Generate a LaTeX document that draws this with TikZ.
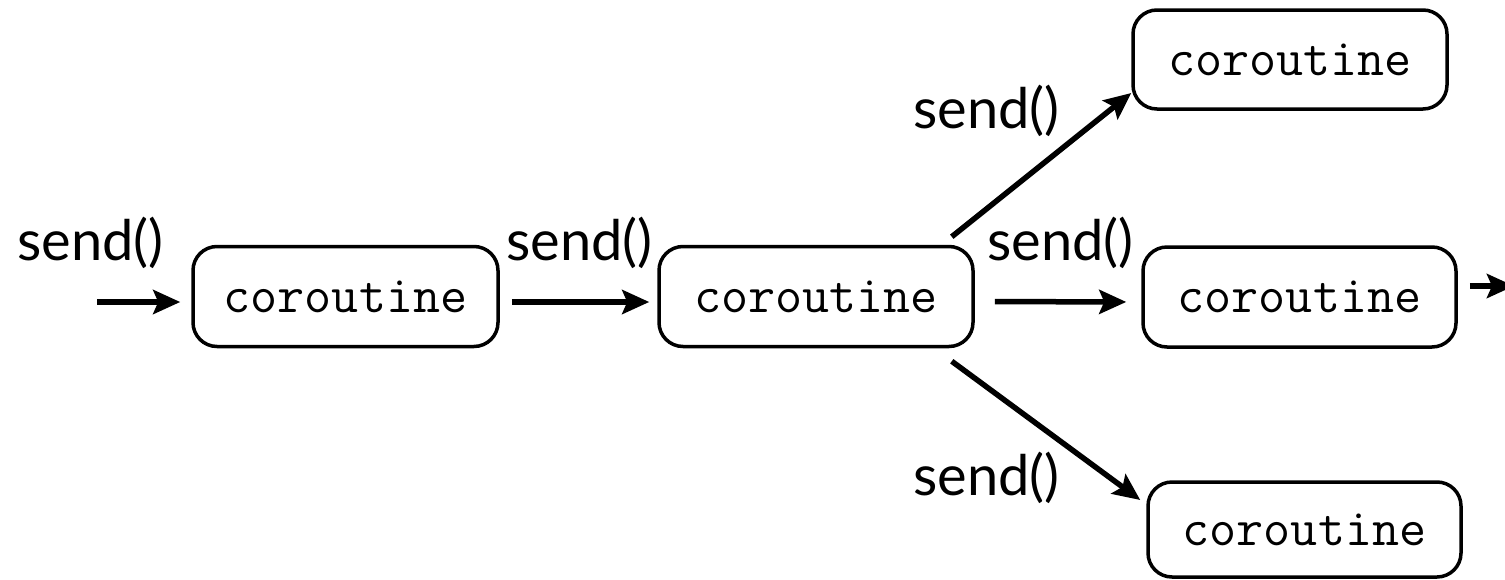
\documentclass[tikz,border=0pt]{standalone}
\usepackage{fontspec}
\setmainfont{Lato}
\usetikzlibrary{arrows.meta}
\tikzset{
  cobox/.style={draw=black, line width=3.5pt, rounded corners=24pt, fill=white,
    minimum height=100pt, inner sep=0pt, font=\ttfamily\fontsize{52.5}{52.5}\selectfont},
  sendlbl/.style={anchor=base west, inner sep=0pt, font=\fontsize{56}{56}\selectfont},
  flow/.style={line width=5.5pt, -{Stealth[length=27pt,width=24pt,inset=5pt]}}
}
\begin{document}
\begin{tikzpicture}[x=1pt,y=-1pt]
\useasboundingbox (0,0) rectangle (1505,579);
\clip (0,0) rectangle (1505,579);
% boxes
\node[cobox, minimum width=305pt] (c1) at (345.5,296.5) {coroutine};
\node[cobox, minimum width=314pt] (c2) at (816,296.5) {coroutine};
\node[cobox, minimum width=314pt, minimum height=99pt] (ct) at (1290,59.5) {coroutine};
\node[cobox, minimum width=313pt] (cm) at (1299.5,297) {coroutine};
\node[cobox, minimum width=313pt, minimum height=95pt] (cb) at (1304.5,529.5) {coroutine};
% free ends
\coordinate (in0) at (97,302);
\coordinate (out0) at (1514,286);
% labels
\node[sendlbl] (l0) at (17,260) {send()};
\node[sendlbl] (l1) at (506,260) {send()};
\node[sendlbl] (l2) at (987,260) {send()};
\node[sendlbl] (lt) at (913,128) {send()};
\node[sendlbl] (lb) at (913,495) {send()};
% connectors
\draw[flow, shorten >=11pt] (in0) -- ([yshift=-5.5pt]c1.west);
\draw[flow, shorten <=12pt, shorten >=8pt] ([yshift=-5.5pt]c1.east) -- ([yshift=-5.5pt]c2.west);
\draw[flow, shorten <=20pt, shorten >=15pt] ([yshift=-5pt]c2.east) -- ([yshift=-5pt]cm.west);
\draw[flow] ([xshift=-23pt,yshift=8pt]c2.north east) -- ([yshift=-33.5pt]ct.west);
\draw[flow] ([xshift=-23pt,yshift=-13pt]c2.south east) -- ([xshift=-6pt,yshift=29.5pt]cb.west);
\draw[flow, shorten <=12pt] ([yshift=11pt]cm.east) -- (out0);
\end{tikzpicture}
\end{document}
